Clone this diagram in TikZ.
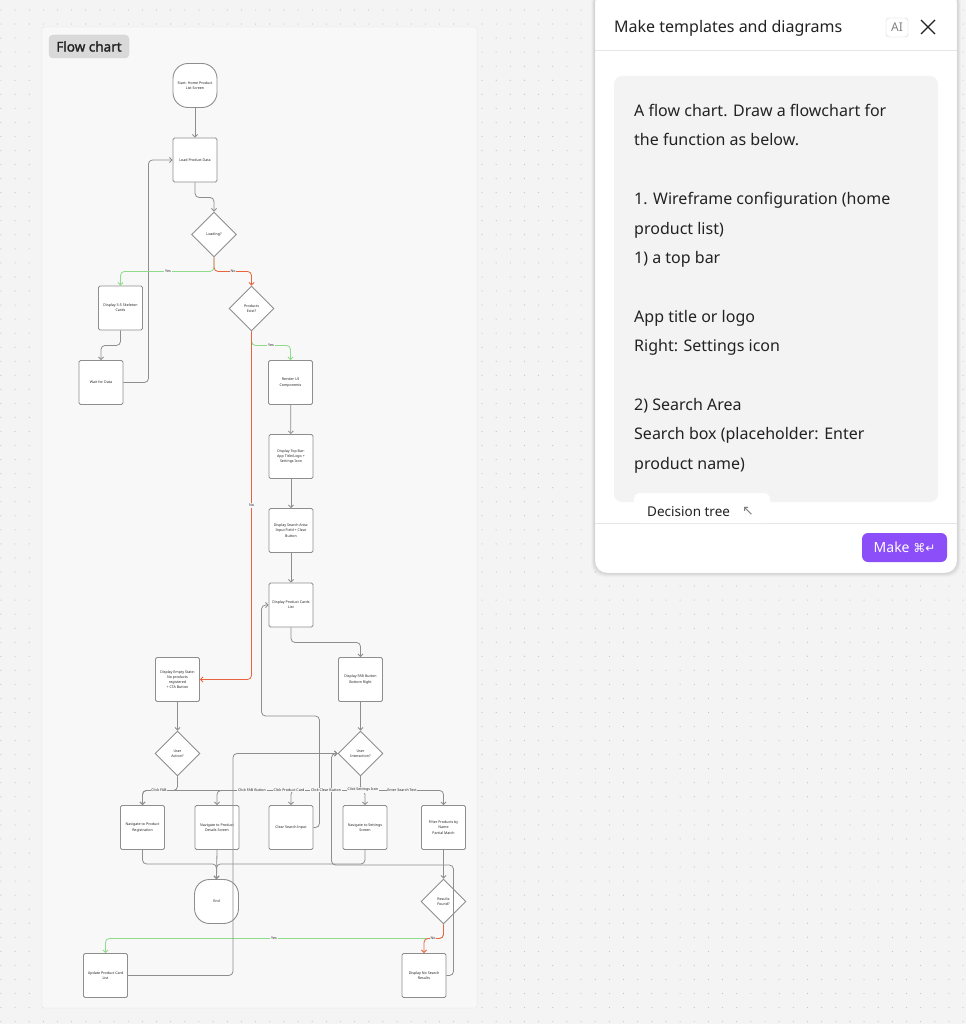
\documentclass[tikz,border=0pt]{standalone}
\usepackage{fontspec}
\setmainfont{Noto Sans}
\newfontfamily\symfont{DejaVu Sans}
\newfontfamily\tagfont{Noto Sans}[FakeBold=1.6]
\usetikzlibrary{shapes.geometric,arrows.meta}

\definecolor{canvas}{HTML}{F4F4F4}
\definecolor{framebg}{HTML}{F8F8F8}
\definecolor{frameln}{HTML}{E4E4E4}
\definecolor{dotc}{HTML}{C4C4C4}
\definecolor{lineg}{HTML}{8E8E8E}
\definecolor{yesg}{HTML}{8EDB8A}
\definecolor{nor}{HTML}{E8643F}
\definecolor{panelgray}{HTML}{F3F3F3}
\definecolor{sepc}{HTML}{E6E6E6}
\definecolor{btn}{HTML}{8B4EF8}
\definecolor{txt}{HTML}{222222}
\definecolor{tagbg}{HTML}{D9D9D9}
\definecolor{badge}{HTML}{D4D4D4}

\tikzset{
  box/.style={draw=lineg, fill=white, line width=0.9pt, rounded corners=1.5pt,
    minimum width=44pt, minimum height=44pt, inner sep=0pt, align=center,
    font=\fontsize{3.6}{5.2}\selectfont, text=txt},
  term/.style={box, rounded corners=15pt},
  dec/.style={draw=lineg, fill=white, line width=0.9pt, diamond, aspect=1,
    minimum width=45pt, minimum height=45pt, inner sep=0pt, align=center,
    font=\fontsize{3.6}{5.2}\selectfont, text=txt},
  conn/.style={draw=lineg, line width=0.8pt, rounded corners=4pt,
    -{Straight Barb[length=2.6pt,width=5.2pt]}},
  yes/.style={conn, draw=yesg},
  no/.style={conn, draw=nor},
  lbl/.style={fill=framebg, inner sep=0.8pt, font=\fontsize{3.6}{4.5}\selectfont, text=txt},
  ptext/.style={anchor=base west, inner sep=0pt, font=\fontsize{16}{19}\selectfont, text=txt},
}

\begin{document}
\begin{tikzpicture}[x=1pt,y=-1pt]
\useasboundingbox (0,0) rectangle (966,1024);
% canvas with dot grid
\fill[canvas] (0,0) rectangle (966,1024);
\foreach \x in {0.9,15.05,...,966}
  {\fill[dotc] \foreach \y in {10,24.05,...,1024} {(\x,\y) circle (0.6pt)};}

% flow chart frame
\filldraw[fill=framebg, draw=frameln, rounded corners=2pt] (42,27) rectangle (477,1008);
\node[fill=tagbg, draw=badge, rounded corners=4pt, minimum width=80pt, minimum height=23pt,
  inner sep=0pt, font=\tagfont\fontsize{13.5}{16}\selectfont, text=txt] (tag) at (89,46.5) {Flow chart};

% nodes
\node[term] (start) at (195,85.5) {Start: Home Product\\List Screen};
\node[box] (load) at (195,160) {Load Product Data};
\node[dec] (loading) at (214,234.5) {Loading?};
\node[box] (skel) at (120.5,308) {Display 3-5 Skeleton\\Cards};
\node[dec] (exist) at (251.5,308.5) {Products\\Exist?};
\node[box] (wait) at (101,382.5) {Wait for Data};
\node[box] (render) at (290.5,382.5) {Render UI\\Components};
\node[box] (topbar) at (291,456.5) {Display Top Bar:\\App Title/Logo +\\Settings Icon};
\node[box] (search) at (291,530.5) {Display Search Area:\\Input Field + Clear\\Button};
\node[box] (cards) at (291,605) {Display Product Cards\\List};
\node[box] (fab) at (360.5,679.5) {Display FAB Button\\Bottom Right};
\node[box] (empty) at (177.5,679.5) {Display Empty State:\\No products\\registered\\+ CTA Button};
\node[dec] (uact) at (177.5,753.5) {User\\Action?};
\node[dec] (uint) at (360.5,753.5) {User\\Interaction?};
\node[box] (navreg) at (142.5,827.5) {Navigate to Product\\Registration};
\node[box] (navdet) at (217,827.5) {Navigate to Product\\Details Screen};
\node[box] (clear) at (291,827.5) {Clear Search Input};
\node[box] (navset) at (365,827.5) {Navigate to Settings\\Screen};
\node[box] (filter) at (443.5,827.5) {Filter Products by\\Name\\Partial Match};
\node[term] (end) at (216.5,901.5) {End};
\node[dec] (found) at (443.5,901.5) {Results\\Found?};
\node[box] (update) at (105.5,975.5) {Update Product Card\\List};
\node[box] (nores) at (424,975.5) {Display No Search\\Results};

% connectors
\draw[conn] (start) -- (load);
\draw[conn] (load.south) -- ++(0,15) -| (loading.north);
\draw[conn] (wait.east) -- ++(25,0) |- (load.west);
\draw[yes] (loading.south) -- ++(0,14) -| (skel.north);
\draw[no] (loading.south) -- ++(0,14) -| (exist.north);
\draw[conn] (skel.south) -- ++(0,15) -| (wait.north);
\draw[yes] (exist.south) -- ++(0,14) -| (render.north);
\draw[no] (exist.south) |- (empty.east);
\draw[conn] (render) -- (topbar);
\draw[conn] (topbar) -- (search);
\draw[conn] (search) -- (cards);
\draw[conn] (cards.south) -- ++(0,15) -| (fab.north);
\draw[conn] (fab) -- (uint);
\draw[conn] (empty) -- (uact);
\draw[conn] (uact.south) -- ++(0,14) -| (navreg.north);
\draw[conn] (uint.south) -- ++(0,14) -| (navreg.north);
\draw[conn] (uint.south) -- ++(0,14) -| (navdet.north);
\draw[conn] (uint.south) -- ++(0,14) -| (clear.north);
\draw[conn] (uint.south) -- ++(0,14) -| (navset.north);
\draw[conn] (uint.south) -- ++(0,14) -| (filter.north);
\draw[conn] (clear.east) -- ++(6,0) -- ++(0,-111.5) -| ([xshift=-7pt]cards.west) -- (cards.west);
\draw[conn] (navreg.south) -- ++(0,14) -| (end.north);
\draw[conn] (navdet.south) -- (end.north);
\draw[conn] (navset.south) -- ++(0,14) -| (end.north);
\draw[conn] (filter) -- (found);
\draw[yes] (found.south) -- ++(0,14) -| (update.north);
\draw[no] (found.south) -- ++(0,14) -| (nores.north);
\draw[conn] (update.east) -- ++(105,0) |- (uint.west);
\draw[conn] (nores.east) -- ++(7,0) -- ++(0,-110.5) -| ([xshift=-6pt]uint.west) -- (uint.west);

% connector labels
\node[lbl] (y1) at (168,271) {Yes};
\node[lbl] (n1) at (233,271) {No};
\node[lbl] (y2) at (271,345.5) {Yes};
\node[lbl] (n2) at (251.5,505.5) {No};
\node[lbl] (c1) at (159,790) {Click FAB};
\node[lbl] (c2) at (252,790) {Click FAB Button};
\node[lbl] (c3) at (289,790) {Click Product Card};
\node[lbl] (c4) at (326,790) {Click Clear Button};
\node[lbl] (c5) at (363,790) {Click Settings Icon};
\node[lbl] (c6) at (402,790) {Enter Search Text};
\node[lbl] (y3) at (274,938.5) {Yes};
\node[lbl] (n3) at (433,938.5) {No};

% side panel
\foreach \s/\o in {4/0.02,3/0.03,2/0.04,1/0.05}
  {\fill[black, opacity=\o, rounded corners=13pt] (595-\s,-10) rectangle (957+\s,573+\s);}
\filldraw[fill=white, draw=sepc, rounded corners=12pt] (595,-10) rectangle (957,573);
\node[ptext] (ptitle) at (614,33) {Make templates and diagrams};
\node[draw=badge, rounded corners=3pt, minimum width=22pt, minimum height=19pt, inner sep=0pt,
  font=\fontsize{12}{14}\selectfont, text=gray] (aibadge) at (897,27.5) {AI};
\draw[txt, line width=1.3pt] (921,20) -- (935,34) (935,20) -- (921,34);
\draw[sepc] (595,50.5) -- (957,50.5);
\fill[panelgray, rounded corners=8pt] (614,76) rectangle (938,502);
\foreach \b/\t [count=\i] in {116.5/{A flow chart. Draw a flowchart for},
    145.9/{the function as below.}, 204.7/{1. Wireframe configuration (home},
    234.1/{product list)}, 263.5/{1) a top bar}, 322.3/{App title or logo},
    351.7/{Right: Settings icon}, 410.5/{2) Search Area},
    439.9/{Search box (placeholder: Enter}, 469.3/{product name)}}
  \node[ptext] (line\i) at (634,\b) {\t};
\draw[sepc] (595,523) -- (957,523);
\fill[white, rounded corners=6pt] (634,493) rectangle (770,523);
\node[anchor=base west, inner sep=0pt, font=\fontsize{13.5}{16}\selectfont, text=txt] (dtree) at (647,516.5) {Decision tree};
\node[inner sep=0pt, font=\symfont\fontsize{14}{16}\selectfont, text=gray] (dtarrow) at (748,511) {↖};
\node[fill=btn, rounded corners=6pt, minimum width=85pt, minimum height=29pt, inner sep=0pt,
  text=white, font=\fontsize{14}{16}\selectfont] (make) at (904.5,547.5) {Make {\symfont\fontsize{12}{14}\selectfont ⌘↵}};
\end{tikzpicture}
\end{document}
